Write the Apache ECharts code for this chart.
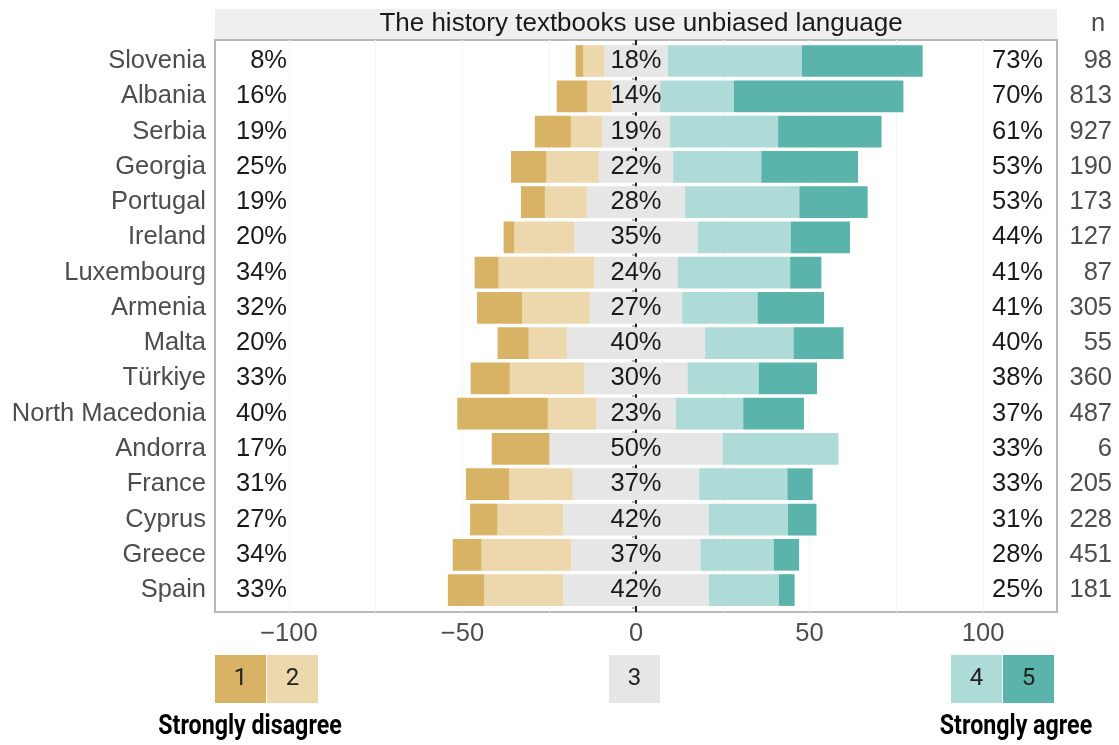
<!DOCTYPE html>
<html>
<head>
<meta charset="utf-8">
<script src="https://cdn.jsdelivr.net/npm/echarts@6/dist/echarts.min.js"></script>
<style>
html,body{margin:0;padding:0;background:#fff;}
#chart{width:1119px;height:745px;}
</style>
</head>
<body>
<div id="chart"></div>
<script>
const title = 'The history textbooks use unbiased language';
const countries = ['Slovenia','Albania','Serbia','Georgia','Portugal','Ireland','Luxembourg','Armenia','Malta','Türkiye','North Macedonia','Andorra','France','Cyprus','Greece','Spain'];
const s1 = [2.2, 8.8, 10.4, 10.2, 6.9, 3.1, 6.9, 13.0, 9.0, 11.3, 26.1, 16.6, 12.5, 7.9, 8.3, 10.5];
const s2 = [6.1, 7.1, 9.0, 15.1, 12.1, 17.3, 27.6, 19.5, 11.0, 21.5, 14.0, 0, 18.3, 18.9, 25.9, 22.7];
const s3 = [18.2, 13.9, 19.5, 21.4, 28.3, 35.5, 24.0, 26.6, 39.8, 29.7, 22.8, 49.9, 36.4, 42.0, 37.2, 42.0];
const s4 = [38.7, 21.2, 31.2, 25.4, 32.9, 26.8, 32.4, 21.7, 25.5, 20.5, 19.5, 33.4, 25.4, 22.8, 21.1, 20.2];
const s5 = [34.8, 48.9, 29.8, 27.9, 19.7, 17.1, 9.0, 19.2, 14.4, 16.8, 17.5, 0, 7.3, 8.2, 7.3, 4.5];
const leftPct = [8,16,19,25,19,20,34,32,20,33,40,17,31,27,34,33];
const midPct = [18,14,19,22,28,35,24,27,40,30,23,50,37,42,37,42];
const rightPct = [73,70,61,53,53,44,41,41,40,38,37,33,33,31,28,25];
const nResp = [98,813,927,190,173,127,87,305,55,360,487,6,205,228,451,181];
const xTicks = [-100,-50,0,50,100];
const xGrid = [-100,-75,-50,-25,0,25,50,75,100];
const legendKeys = ['1','2','3','4','5'];
const colors = ['#d8b365','#ecd8ac','#e6e6e6','#aedbd7','#5ab4ac'];

const FONT = '"Liberation Sans", Arial, sans-serif';
const chart = echarts.init(document.getElementById('chart'), null, {renderer:'canvas'});

const L = 215, R = 1119 - 1057, TOP = 40, BOT = 745 - 612;
const band = 35.27;
const dataTop = 61 - band/2;
const dataH = band * countries.length;
const XMIN = -121.3, XMAX = 121.3;

function barSeries(name, vals, color, sign) {
  return {
    type: 'bar', name: name, xAxisIndex: 1, yAxisIndex: 0, stack: 'all',
    barWidth: '90%', z: 2,
    itemStyle: {color: color},
    data: vals.map(v => sign * v)
  };
}

const series = [
  {type:'line', xAxisIndex:0, yAxisIndex:4, z:1, symbol:'none', silent:true,
   lineStyle:{color:'#222', width:2}, data:[[0,0],[0,1]]},
  barSeries('3-', s3.map(v=>v/2), colors[2], -1),
  barSeries('2', s2, colors[1], -1),
  barSeries('1', s1, colors[0], -1),
  barSeries('3+', s3.map(v=>v/2), colors[2], 1),
  barSeries('4', s4, colors[3], 1),
  barSeries('5', s5, colors[4], 1),
  {type:'scatter', xAxisIndex:1, yAxisIndex:0, z:5, symbolSize:2, itemStyle:{color:'rgba(0,0,0,0)'}, silent:true,
   data: countries.map((c,i)=>[0, i]),
   label:{show:true, position:'inside', color:'#1a1a1a', opacity:1, textBorderWidth:0, textBorderColor:'rgba(0,0,0,0)',
     fontSize:25.5, fontFamily:FONT,
     formatter: p => midPct[p.dataIndex] + '%'}}
];

function catAxis(extra) {
  return Object.assign({
    type:'category', gridIndex:1, data:countries, inverse:true, offset:0,
    axisLine:{show:false}, axisTick:{show:false}, splitLine:{show:false}
  }, extra);
}

const option = {
  animation:false,
  backgroundColor:'#fff',
  grid:[
    {left:L, right:R, top:TOP, bottom:BOT, show:true, borderColor:'#b8b8b8', borderWidth:2, backgroundColor:'#fff', containLabel:false},
    {left:L, right:R, top:dataTop, height:dataH, containLabel:false}
  ],
  xAxis:[
    {type:'value', gridIndex:0, min:XMIN, max:XMAX,
     axisLine:{show:false},
     axisTick:{show:false, customValues:xGrid},
     splitLine:{show:true, lineStyle:{color:'#f3f3f3', width:1}},
     axisLabel:{customValues:xTicks, color:'#4d4d4d', fontSize:25.5, fontFamily:FONT, margin:9,
       formatter: v => String(v).replace('-', '\u2212')}},
    {type:'value', gridIndex:1, min:XMIN, max:XMAX, show:false, splitLine:{show:false}}
  ],
  yAxis:[
    catAxis({position:'left', axisTick:{show:true, length:4, lineStyle:{color:'#b8b8b8', width:2}},
      axisLabel:{interval:0, margin:9, color:'#4d4d4d', fontSize:25.5, fontFamily:FONT}}),
    catAxis({position:'right', axisLabel:{interval:0, margin:55, align:'right', color:'#4d4d4d', fontSize:25.5, fontFamily:FONT,
      formatter:(v,i)=>String(nResp[i])}}),
    catAxis({position:'left', axisLabel:{interval:0, inside:true, margin:72, align:'right', color:'#1a1a1a', fontSize:25.5, fontFamily:FONT,
      formatter:(v,i)=>leftPct[i]+'%'}}),
    catAxis({position:'right', axisLabel:{interval:0, inside:true, margin:14, align:'right', color:'#1a1a1a', fontSize:25.5, fontFamily:FONT,
      formatter:(v,i)=>rightPct[i]+'%'}}),
    {type:'value', gridIndex:0, min:0, max:1, show:false, splitLine:{show:false}}
  ],
  series: series,
  graphic:[
    {type:'rect', shape:{x:L, y:9, width:1057-L, height:30}, style:{fill:'#efefef'}, z:10},
    {type:'text', x:(L+1057)/2 + 5, y:24, z:11, style:{text:title, fill:'#1a1a1a', font:'26px ' + FONT, textAlign:'center', textVerticalAlign:'middle'}},
    {type:'text', x:1098, y:24, z:11, style:{text:'n', fill:'#4d4d4d', font:'25.5px ' + FONT, textAlign:'center', textVerticalAlign:'middle'}},
    ...[[215,0],[267,1],[609,2],[951,3],[1003,4]].flatMap(([x,k]) => [
      {type:'rect', shape:{x:x, y:655, width:51, height:48}, style:{fill:colors[k]}, z:10},
      {type:'text', x:x+25.5, y:679, z:11, style:{text:legendKeys[k], fill:'#222', font:'24px Roboto, sans-serif', textAlign:'center', textVerticalAlign:'middle'}}
    ]),
    {type:'text', x:250, y:727, scaleX:0.86, originX:0, originY:0, z:11, style:{text:'Strongly disagree', fill:'#000', font:'bold 27px Roboto, sans-serif', textAlign:'center', textVerticalAlign:'middle'}},
    {type:'text', x:1016, y:727, scaleX:0.86, originX:0, originY:0, z:11, style:{text:'Strongly agree', fill:'#000', font:'bold 27px Roboto, sans-serif', textAlign:'center', textVerticalAlign:'middle'}}
  ]
};
chart.setOption(option);
</script>
</body>
</html>
